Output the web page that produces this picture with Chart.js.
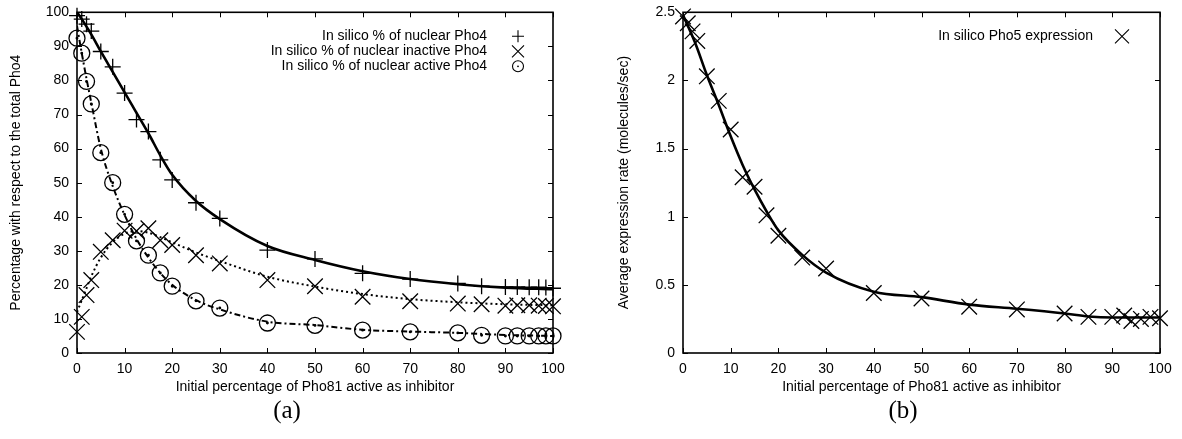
<!DOCTYPE html>
<html>
<head>
<meta charset="utf-8">
<script src="https://cdn.jsdelivr.net/npm/chart.js@4.4.0/dist/chart.umd.min.js"></script>
<style>
  html, body { margin: 0; padding: 0; background: #fff; }
  body { width: 1182px; height: 439px; position: relative; overflow: hidden; }
  .panel { position: absolute; top: 0; height: 400px; }
  #panel-a { left: 0; width: 590px; }
  #panel-b { left: 600px; width: 582px; }
  .caption { position: absolute; top: 396px; font-family: 'Liberation Serif', serif; font-size: 25px; transform: translateX(-50%); }
</style>
</head>
<body>
<div class="panel" id="panel-a"><canvas id="chart-a"></canvas></div>
<div class="panel" id="panel-b"><canvas id="chart-b"></canvas></div>
<div class="caption" style="left:287px">(a)</div>
<div class="caption" style="left:903px">(b)</div>
<script>
// --- panel (a): sampled points ---
const pctInhibitor = [0, 1, 2, 3, 5, 7.5, 10, 12.5, 15, 17.5, 20, 25, 30, 40, 50, 60, 70, 80, 85, 90, 92.5, 95, 97, 98.5, 100];
const nuclearPho4 = [99, 98, 96.5, 94.5, 88.5, 84, 76.3, 68.5, 65, 56.7, 50.8, 44.1, 39.5, 30.2, 27.6, 23.4, 21.7, 20.4, 19.6, 19.4, 19.4, 19.3, 19.3, 19.2, 19.0];
const inactivePho4 = [6.2, 10.6, 17, 21.4, 29.7, 33.1, 35.9, 35.8, 36.6, 33.1, 31.7, 28.7, 26.3, 21.4, 19.6, 16.5, 15.2, 14.5, 14.3, 13.9, 14, 14, 13.9, 13.8, 13.7];
const activePho4 = [92.4, 88, 79.7, 73.1, 58.8, 50, 40.7, 32.9, 28.7, 23.5, 19.6, 15.3, 13.2, 8.8, 8.1, 6.7, 6.2, 5.9, 5.2, 5.0, 5.0, 5.0, 5.0, 5.0, 5.0];

// --- panel (a): fitted curves ---
const fitX = [0, 1, 2, 3, 5, 7.5, 10, 12.5, 15, 17.5, 20, 25, 30, 40, 50, 60, 70, 80, 90, 100];
const nuclearFit = [100, 98, 95.8, 93.5, 88.5, 82.5, 76.5, 70.5, 64.5, 58, 52.3, 44.6, 39.3, 31.4, 27.3, 24, 21.7, 20.2, 19.2, 18.7];
const inactiveFit = [12, 15.5, 19, 22.5, 28, 32.5, 35, 35.8, 35.3, 34, 32.5, 29.5, 27, 22.4, 19.5, 17.3, 15.8, 14.9, 14.3, 14.0];
const activeFit = [96, 88, 80.5, 73.5, 60, 49, 40.5, 33.5, 28, 23.5, 20, 15.5, 12.8, 9.2, 8.2, 6.8, 6.3, 5.9, 5.3, 5.0];

// --- panel (b) ---
const pctInhibitorB = [0, 1, 2, 3, 5, 7.5, 10, 12.5, 15, 17.5, 20, 25, 30, 40, 50, 60, 70, 80, 85, 90, 92.5, 94, 96, 98, 100];
const pho5Rate = [2.47, 2.42, 2.36, 2.29, 2.03, 1.85, 1.64, 1.29, 1.22, 1.01, 0.86, 0.70, 0.62, 0.44, 0.40, 0.34, 0.32, 0.29, 0.265, 0.265, 0.275, 0.235, 0.25, 0.265, 0.255];
const fitXB = [0, 2.5, 5, 7.5, 10, 12.5, 15, 17.5, 20, 25, 30, 40, 50, 60, 70, 80, 85, 90, 100];
const pho5Fit = [2.48, 2.28, 2.04, 1.82, 1.59, 1.38, 1.2, 1.04, 0.9, 0.72, 0.59, 0.45, 0.41, 0.355, 0.325, 0.29, 0.268, 0.26, 0.26];

// tick labels
const xTicks = [0, 10, 20, 30, 40, 50, 60, 70, 80, 90, 100];
const yTicksA = [0, 10, 20, 30, 40, 50, 60, 70, 80, 90, 100];
const yTicksB = [0, 0.5, 1, 1.5, 2, 2.5];

Chart.defaults.font.family = "'Liberation Sans', Arial, sans-serif";
Chart.defaults.color = '#000';

const pts = (xs, ys) => xs.map((x, i) => ({ x: x, y: ys[i] }));

function drawSymbol(ctx, kind, x, y, h) {
  ctx.beginPath();
  if (kind === 'plus') {
    ctx.moveTo(x - h, y); ctx.lineTo(x + h, y);
    ctx.moveTo(x, y - h); ctx.lineTo(x, y + h);
  } else if (kind === 'x') {
    ctx.moveTo(x - h, y - h); ctx.lineTo(x + h, y + h);
    ctx.moveTo(x - h, y + h); ctx.lineTo(x + h, y - h);
  } else {
    ctx.arc(x, y, h, 0, Math.PI * 2);
    ctx.stroke();
    ctx.beginPath();
    ctx.arc(x, y, 0.9, 0, Math.PI * 2);
    ctx.fill();
    return;
  }
  ctx.stroke();
}

// gnuplot-ish box with inward ticks on all 4 sides
const frameTicks = {
  id: 'frameTicks',
  afterDatasetsDraw(chart) {
    const { ctx, chartArea: a, scales } = chart;
    ctx.save();
    ctx.strokeStyle = '#000';
    ctx.lineWidth = 1;
    ctx.beginPath();
    scales.x.ticks.forEach(t => {
      const px = Math.round(scales.x.getPixelForValue(t.value)) + 0.5;
      ctx.moveTo(px, a.bottom); ctx.lineTo(px, a.bottom - 5);
      ctx.moveTo(px, a.top); ctx.lineTo(px, a.top + 5);
    });
    scales.y.ticks.forEach(t => {
      const py = Math.round(scales.y.getPixelForValue(t.value)) + 0.5;
      ctx.moveTo(a.left, py); ctx.lineTo(a.left + 5, py);
      ctx.moveTo(a.right, py); ctx.lineTo(a.right - 5, py);
    });
    ctx.stroke();
    ctx.lineWidth = 1.6;
    ctx.strokeRect(a.left, a.top, a.right - a.left, a.bottom - a.top);
    ctx.restore();
  }
};

// key drawn inside the plot, text right aligned, symbol to the right
const insideKey = {
  id: 'insideKey',
  afterDraw(chart, args, opts) {
    const { ctx, chartArea: a } = chart;
    ctx.save();
    ctx.font = "14px 'Liberation Sans', Arial, sans-serif";
    ctx.fillStyle = '#000';
    ctx.strokeStyle = '#000';
    ctx.lineWidth = 1.1;
    ctx.textAlign = 'right';
    ctx.textBaseline = 'middle';
    opts.entries.forEach((e, i) => {
      const y = a.top + opts.top + i * 15;
      ctx.fillText(e.text, a.right - opts.textGap, y);
      drawSymbol(ctx, e.kind, a.right - opts.symGap, y, e.size);
    });
    ctx.restore();
  }
};

function scales(yTicks, yMax, yTitle, yWidth, titlePad) {
  return {
    x: {
      type: 'linear', min: 0, max: 100,
      afterBuildTicks: s => { s.ticks = xTicks.map(v => ({ value: v })); },
      afterFit: s => { s.height = 47; s.paddingLeft = 0; s.paddingRight = 0; },
      grid: { display: false, drawTicks: false },
      border: { display: false },
      ticks: { padding: 8, font: { size: 14 }, maxRotation: 0, callback: v => String(v) },
      title: {
        display: true, text: 'Initial percentage of Pho81 active as inhibitor',
        font: { size: 14 }, padding: { top: 0, bottom: 4 }
      }
    },
    y: {
      type: 'linear', min: 0, max: yMax,
      afterBuildTicks: s => { s.ticks = yTicks.map(v => ({ value: v })); },
      afterFit: s => { s.width = yWidth; s.paddingTop = 0; s.paddingBottom = 0; },
      grid: { display: false, drawTicks: false },
      border: { display: false },
      ticks: { padding: 8, font: { size: 14 }, callback: v => String(v) },
      title: { display: true, text: yTitle, font: { size: 14 }, padding: { top: titlePad, bottom: 0 } }
    }
  };
}

const lineSet = (data, dash, width) => ({
  data: data, showLine: true, pointRadius: 0, borderColor: '#000',
  borderWidth: width, borderDash: dash, cubicInterpolationMode: 'monotone', fill: false
});

const markSet = (data, style, radius, fillDot) => ({
  data: data, showLine: false, pointStyle: style, pointRadius: radius,
  pointBorderColor: '#000', pointBackgroundColor: fillDot ? '#000' : 'rgba(0,0,0,0)',
  pointBorderWidth: 1.3, clip: false
});

new Chart(document.getElementById('chart-a'), {
  type: 'scatter',
  data: {
    datasets: [
      lineSet(pts(fitX, nuclearFit), [], 2.6),
      lineSet(pts(fitX, inactiveFit), [2, 3], 2),
      lineSet(pts(fitX, activeFit), [6, 3, 2, 3], 2),
      markSet(pts(pctInhibitor, nuclearPho4), 'cross', 8),
      markSet(pts(pctInhibitor, inactivePho4), 'crossRot', 11),
      markSet(pts(pctInhibitor, activePho4), 'circle', 8),
      markSet(pts(pctInhibitor, activePho4), 'circle', 0.8, true)
    ]
  },
  options: {
    responsive: true, maintainAspectRatio: false, animation: false,
    layout: { padding: { top: 12, right: 37, left: 0, bottom: 0 } },
    scales: scales(yTicksA, 100, 'Percentage with respect to the total Pho4', 77, 8),
    plugins: {
      legend: { display: false }, tooltip: { enabled: false },
      insideKey: {
        top: 24, textGap: 66, symGap: 35,
        entries: [
          { text: 'In silico % of nuclear Pho4', kind: 'plus', size: 6 },
          { text: 'In silico % of nuclear inactive Pho4', kind: 'x', size: 6 },
          { text: 'In silico % of nuclear active Pho4', kind: 'ring', size: 5.5 }
        ]
      }
    }
  },
  plugins: [frameTicks, insideKey]
});

new Chart(document.getElementById('chart-b'), {
  type: 'scatter',
  data: {
    datasets: [
      lineSet(pts(fitXB, pho5Fit), [], 2.6),
      markSet(pts(pctInhibitorB, pho5Rate), 'crossRot', 11)
    ]
  },
  options: {
    responsive: true, maintainAspectRatio: false, animation: false,
    layout: { padding: { top: 12, right: 22, left: 0, bottom: 0 } },
    scales: scales(yTicksB, 2.5, 'Average expression rate (molecules/sec)', 83, 16),
    plugins: {
      legend: { display: false }, tooltip: { enabled: false },
      insideKey: {
        top: 24, textGap: 67, symGap: 38,
        entries: [ { text: 'In silico Pho5 expression', kind: 'x', size: 7 } ]
      }
    }
  },
  plugins: [frameTicks, insideKey]
});
</script>
</body>
</html>
